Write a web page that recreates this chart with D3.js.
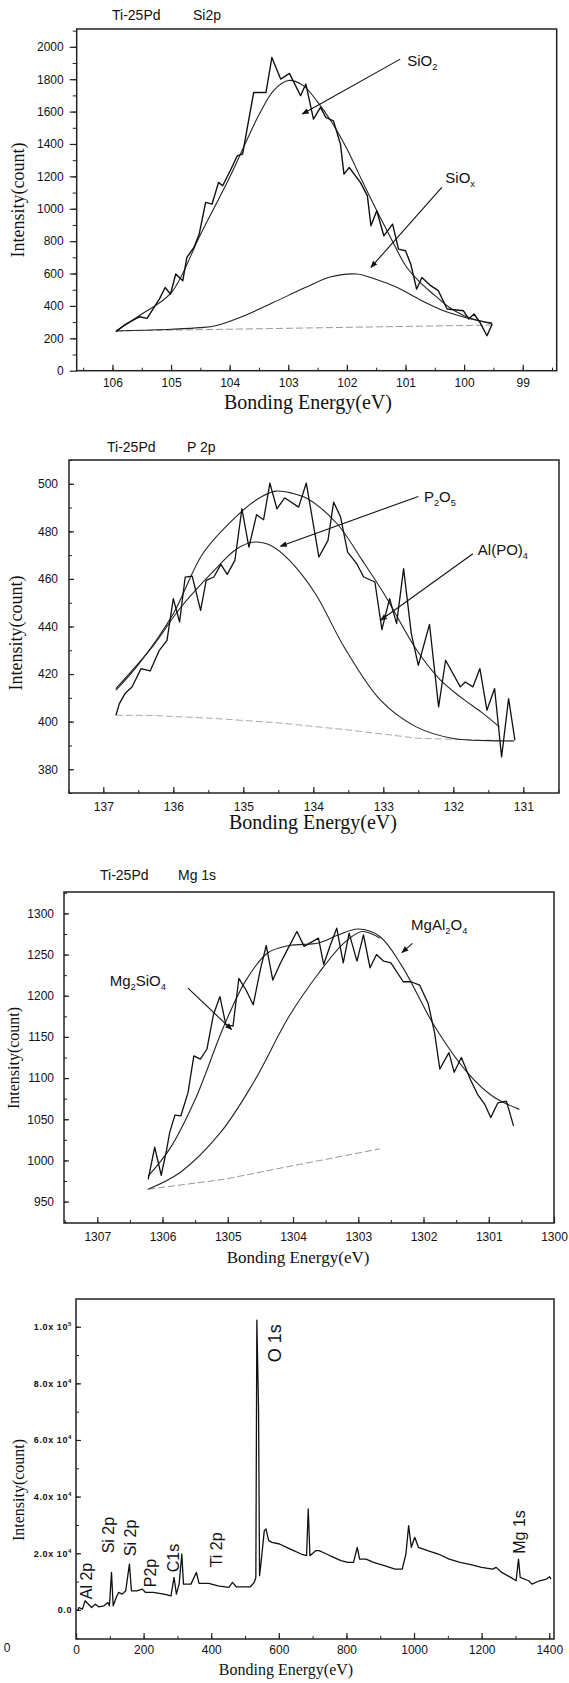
<!DOCTYPE html>
<html><head><meta charset="utf-8">
<script src="https://cdn.jsdelivr.net/npm/d3@7/dist/d3.min.js"></script>
<style>
body{margin:0;background:#fff;}
svg{display:block;}
</style></head><body>
<svg id="c" width="569" height="1683"></svg>
<script>
// ---------- Panel 1 : Si2p ----------
const siRawE = [105.94,105.81,105.72,105.54,105.41,105.2,105.1,105.01,104.92,104.8,104.73,104.61,104.52,104.41,104.3,104.19,104.12,103.99,103.87,103.78,103.59,103.38,103.28,103.13,102.98,102.79,102.7,102.57,102.45,102.36,102.23,102.11,102.05,101.96,101.77,101.65,101.59,101.49,101.37,101.22,101.12,101.0,100.91,100.81,100.72,100.57,100.44,100.29,100.01,99.92,99.83,99.73,99.61,99.52];
const siRawI = [241,278,298,333,323,442,514,473,597,556,700,761,844,1039,1029,1163,1142,1235,1327,1338,1718,1718,1934,1801,1836,1698,1770,1554,1626,1564,1543,1399,1214,1255,1163,1080,895,988,833,905,751,741,658,504,576,525,494,381,370,319,350,298,216,288];
const siFitE = [105.94,105.5,105,104.5,104,103.5,103.25,103,102.75,102.5,102.25,102,101.75,101.5,101.25,101,100.75,100.5,100.25,100,99.75,99.52];
const siFitI = [245,350,480,840,1195,1580,1730,1792,1762,1660,1530,1370,1180,995,820,650,545,465,390,340,310,295];
const siOxE = [105.94,105.5,105,104.5,104.24,103.75,103.25,102.7,102.27,101.83,101.52,101.15,100.72,100.35,99.98,99.52];
const siOxI = [245,250,256,266,278,340,422,515,580,597,566,515,432,370,329,288];
const siBgE = [105.94,99.52];
const siBgI = [245,282];
const siXTicks = [106,105,104,103,102,101,100,99];
const siYTicks = [0,200,400,600,800,1000,1200,1400,1600,1800,2000];

// ---------- Panel 2 : P 2p ----------
const pRawE = [136.82,136.77,136.69,136.59,136.46,136.33,136.2,136.09,136.0,135.91,135.83,135.73,135.61,135.53,135.42,135.32,135.23,135.12,135.02,134.92,134.81,134.71,134.62,134.52,134.41,134.21,134.1,133.92,133.79,133.71,133.61,133.51,133.38,133.28,133.12,133.02,132.91,132.81,132.71,132.6,132.5,132.34,132.21,132.11,131.9,131.83,131.72,131.62,131.52,131.41,131.31,131.21,131.12];
const pRawI = [402.7,407.6,411.8,414.6,422.3,421.3,430,434.2,451.7,441.9,460.8,461.2,446.8,459.4,460.8,466.1,461.9,467.8,489.5,473.4,487,484.9,500.3,489.5,494.1,490.2,500.3,469.2,476.2,492.3,486,471.3,466.4,460.8,458.7,438.7,451.7,441.2,464.3,437,423.7,440.9,406.2,425.8,414.6,416.7,414.6,422.3,404.8,413.9,385.2,409.7,392.2];
const pFitE = [136.82,136.5,136.0,135.58,135.11,134.8,134.54,134.3,134.08,133.66,133.3,132.99,132.52,132.2,131.9,131.6,131.34];
const pFitI = [413.2,424,445.4,470.6,486,493.5,496.9,496,493.7,483.2,467.8,453.8,430,418,410.4,404,397.8];
const p2o5E = [136.82,136.3,135.89,135.37,135.1,134.85,134.6,134.34,133.97,133.56,133.04,132.53,132.0,131.5,131.13];
const p2o5I = [413.9,431.4,448.2,465,472.5,475.5,474,467.8,453.8,431.4,409,397.8,392.9,392,391.9];
const pBgE = [136.82,136.3,135.5,134.5,133.5,132.5,131.13];
const pBgI = [402.7,402.6,401.5,399.5,396.5,393,391.9];
const pXTicks = [137,136,135,134,133,132,131];
const pYTicks = [380,400,420,440,460,480,500];

// ---------- Panel 3 : Mg 1s ----------
const mgRawE = [1306.22,1306.12,1306.02,1305.94,1305.89,1305.81,1305.72,1305.61,1305.52,1305.42,1305.32,1305.22,1305.12,1305.03,1304.92,1304.83,1304.72,1304.61,1304.5,1304.41,1304.31,1304.19,1304.06,1303.94,1303.83,1303.61,1303.53,1303.43,1303.33,1303.23,1303.14,1303.02,1302.92,1302.82,1302.72,1302.61,1302.5,1302.31,1302.19,1302.06,1301.93,1301.83,1301.75,1301.61,1301.53,1301.42,1301.28,1301.17,1301.06,1300.97,1300.86,1300.73,1300.62];
const mgRawI = [977,1016,982,1012,1034,1055,1054,1082,1127,1123,1135,1177,1199,1165,1163,1221,1207,1189,1232,1261,1219,1240,1260,1278,1260,1270,1238,1261,1282,1240,1276,1242,1274,1234,1250,1242,1240,1217,1217,1213,1191,1155,1111,1131,1107,1125,1098,1080,1068,1052,1070,1072,1042];
const mgFitE = [1306.22,1305.89,1305.5,1305.06,1304.72,1304.39,1304.06,1303.61,1303.3,1303.0,1302.67,1302.33,1301.83,1301.33,1300.94,1300.53];
const mgFitI = [981,1014,1074,1163,1219,1252,1261,1264,1274,1281,1272,1236,1163,1107,1078,1062];
const mgAlE = [1306.22,1305.72,1305.11,1304.61,1304.06,1303.61,1303.22,1302.94,1302.67];
const mgAlI = [965,986,1034,1094,1175,1227,1264,1278,1270];
const mgBgE = [1306.22,1305.06,1304.17,1302.67];
const mgBgI = [965,977,991,1014];
const mgXTicks = [1307,1306,1305,1304,1303,1302,1301,1300];
const mgYTicks = [950,1000,1050,1100,1150,1200,1250,1300];

// ---------- Panel 4 : survey ----------
const svE = [5,8.5,19,27,35,46,57,67,83,94,99,105,110,119,126,137,147,158,164,180,196,206,228,260,281,290,297,305,313,318,340,356,364,393,420,452,463,474,516,527,532,535,540,543,548,557,562,570,580,602,623,644,666,682,687,692,709,719,741,762,784,805,821,832,839,858,880,912,944,965,976,984,992,1002,1013,1040,1072,1104,1136,1168,1200,1232,1243,1259,1286,1302,1309,1314,1339,1349,1371,1392,1401,1405];
const svI = [-354,826,236,3188,2243,826,2007,1062,1417,2597,1417,13223,1417,4368,6139,5549,6729,16174,6729,6729,7320,6139,6139,5549,4958,11452,5549,9091,19716,9091,9091,13223,9327,9327,8500,7910,9681,8146,8146,9681,11452,102358,70480,12042,17355,27980,28570,24438,23848,23257,22077,20897,19716,19126,35654,19126,20897,20897,19716,18535,17355,16764,16764,22077,17945,17945,16764,15584,14403,14403,19716,29751,22077,25619,22077,20897,19716,17945,16764,15938,14993,14403,14993,13223,11452,10271,17945,11452,10271,9091,10271,10862,11688,10862];
const svXTicks = [0,200,400,600,800,1000,1200,1400];
const svYTicks = [0,20000,40000,60000,80000,100000];
const svPeakNames = ["Al 2p","Si 2p","Si 2p","P2p","C1s","Ti 2p","O1s","Mg 1s"];
const svPeakE = [32,97,160,219,287,417,588,1312];
const svPeakI = [10200,26400,25400,13000,18300,21200,94200,27500];

const SANS = '"Liberation Sans", Arial, sans-serif';
const SERIF = '"Liberation Serif", "Times New Roman", serif';
const svg = d3.select("#c");
const defs = svg.append("defs");
defs.append("marker").attr("id","ah").attr("viewBox","0 0 10 10").attr("refX",9).attr("refY",5)
  .attr("markerWidth",9).attr("markerHeight",7).attr("markerUnits","userSpaceOnUse").attr("orient","auto")
  .append("path").attr("d","M0,1 L10,5 L0,9 Z").attr("fill","#111");

function zip(a,b){return a.map((v,i)=>[v,b[i]]);}

function panel(c){
  const g = svg.append("g");
  const x = d3.scaleLinear().domain(c.xd).range(c.xr);
  const y = d3.scaleLinear().domain(c.yd).range(c.yr);
  // minor ticks
  const xMinor = d3.axisBottom(x).tickValues(c.xMinor).tickFormat("").tickSizeInner(-3).tickSizeOuter(0);
  g.append("g").attr("transform",`translate(0,${c.yr[0]})`).call(xMinor).call(s=>s.select(".domain").remove())
    .selectAll("line").attr("stroke","#222");
  const yMinor = d3.axisLeft(y).tickValues(c.yMinor).tickFormat("").tickSizeInner(c.yOut?4:-3).tickSizeOuter(0);
  g.append("g").attr("transform",`translate(${c.xr[0]},0)`).call(yMinor).call(s=>s.select(".domain").remove())
    .selectAll("line").attr("stroke","#222");
  // major
  const xa = d3.axisBottom(x).tickValues(c.xt).tickFormat(d3.format("d")).tickSizeInner(-6).tickSizeOuter(0).tickPadding(c.xpad);
  const gx = g.append("g").attr("transform",`translate(0,${c.yr[0]})`).call(xa);
  gx.select(".domain").remove();
  gx.selectAll("line").attr("stroke","#222").attr("stroke-width",1.2);
  gx.selectAll("text").attr("font-family",SANS).attr("font-size",c.tfs).attr("fill","#111");
  const ya = d3.axisLeft(y).tickValues(c.yt).tickFormat(c.yf||d3.format("d")).tickSizeInner(c.yOut?7:-5).tickSizeOuter(0).tickPadding(c.ypad);
  const gy = g.append("g").attr("transform",`translate(${c.xr[0]},0)`).call(ya);
  gy.select(".domain").remove();
  gy.selectAll("line").attr("stroke","#222").attr("stroke-width",1.2);
  gy.selectAll("text").attr("font-family",SANS).attr("font-size",c.tfs).attr("fill","#111");
  if(c.yPost) c.yPost(gy);
  // frame
  g.append("rect").attr("x",c.xr[0]).attr("y",c.yr[1]).attr("width",c.xr[1]-c.xr[0]).attr("height",c.yr[0]-c.yr[1])
    .attr("fill","none").attr("stroke","#222").attr("stroke-width",1.5);
  // lines
  c.lines.forEach(L=>{
    const gen = d3.line().x(d=>x(d[0])).y(d=>y(d[1])).curve(L.smooth?d3.curveCatmullRom.alpha(0.5):d3.curveLinear);
    g.append("path").attr("d",gen(zip(L.e,L.i))).attr("fill","none").attr("stroke",L.color||"#111")
      .attr("stroke-width",L.w||1).attr("stroke-dasharray",L.dash||null).attr("stroke-linejoin","round");
  });
  // annotations
  (c.notes||[]).forEach(n=>{
    const t = g.append("text").attr("x",x(n.te)).attr("y",y(n.ti)).attr("font-family",SANS).attr("font-size",n.fs||15).attr("fill","#111");
    n.parts.forEach(p=>{
      if(p[1]) t.append("tspan").attr("font-size",(n.fs||15)*0.62).attr("dy",4).text(p[0]);
      else t.append("tspan").attr("dy",p[2]?-4:0).text(p[0]);
    });
    if(n.a) g.append("line").attr("x1",x(n.a[0])).attr("y1",y(n.a[1])).attr("x2",x(n.a[2])).attr("y2",y(n.a[3]))
      .attr("stroke","#111").attr("stroke-width",1.1).attr("marker-end","url(#ah)");
  });
  // labels
  if(c.title[2]){
    g.append("text").attr("x",c.title[0]).attr("y",c.title[1]).attr("font-family",SANS).attr("font-size",14).attr("fill","#111").text(c.title[2]);
    g.append("text").attr("x",c.title[3]).attr("y",c.title[1]).attr("font-family",SANS).attr("font-size",14).attr("fill","#111").text(c.title[4]);
  }
  g.append("text").attr("x",c.xl[0]).attr("y",c.xl[1]).attr("text-anchor","middle").attr("font-family",SERIF)
    .attr("font-size",c.xl[2]).attr("fill","#111").text("Bonding Energy(eV)");
  g.append("text").attr("transform",`translate(${c.yl[0]},${c.yl[1]}) rotate(-90)`).attr("text-anchor","middle")
    .attr("dominant-baseline","central").attr("font-family",SERIF).attr("font-size",c.yl[2]).attr("fill","#111").text("Intensity(count)");
  return {g,x,y};
}

function halfSteps(a,b,s){const r=[];for(let v=a;v<=b+1e-9;v+=s)r.push(+v.toFixed(3));return r;}

panel({
  xd:[106.61,98.42], xr:[76.7,556.7], yd:[0,2110], yr:[370.7,29],
  xt:siXTicks, yt:siYTicks, xMinor:halfSteps(98.5,106.5,0.5), yMinor:halfSteps(100,2100,100),
  yOut:true, xpad:8, ypad:6, tfs:12,
  lines:[
    {e:siBgE,i:siBgI,color:"#999",dash:"7 3",w:1},
    {e:siOxE,i:siOxI,smooth:true,w:1.1,color:"#222"},
    {e:siFitE,i:siFitI,smooth:true,w:1.1,color:"#222"},
    {e:siRawE,i:siRawI,w:1.4}
  ],
  notes:[
    {te:100.97,ti:1880,parts:[["SiO"],["2",true]],a:[101.09,1924,102.76,1585]},
    {te:100.32,ti:1160,parts:[["SiO"],["x",true]],a:[100.38,1132,101.59,638]}
  ],
  title:[112,20,"Ti-25Pd",193,"Si2p"],
  xl:[308,409,20], yl:[18,200,18]
});

panel({
  xd:[137.49,130.49], xr:[69,559], yd:[370,510], yr:[793,460],
  xt:pXTicks, yt:pYTicks, xMinor:halfSteps(130.5,137.5,0.5), yMinor:halfSteps(370,510,10),
  yOut:false, xpad:9, ypad:11, tfs:12,
  lines:[
    {e:pBgE,i:pBgI,color:"#aaa",dash:"7 3",w:1},
    {e:p2o5E,i:p2o5I,smooth:true,w:1.1,color:"#222"},
    {e:pFitE,i:pFitI,smooth:true,w:1.1,color:"#222"},
    {e:pRawE,i:pRawI,w:1.3}
  ],
  notes:[
    {te:132.42,ti:492.3,parts:[["P"],["2",true],["O",false,true],["5",true]],a:[132.5,494.7,134.47,473.7]},
    {te:131.65,ti:469.9,parts:[["Al(PO)"],["4",true]],a:[131.72,470.6,133.04,442.6]}
  ],
  title:[107,452,"Ti-25Pd",187,"P 2p"],
  xl:[313,829,20], yl:[16,633,18]
});

panel({
  xd:[1307.51,1300], xr:[64,554], yd:[924,1326], yr:[1223,892],
  xt:mgXTicks, yt:mgYTicks, xMinor:halfSteps(1300,1307.5,0.5), yMinor:halfSteps(925,1325,25),
  yOut:false, xpad:9, ypad:10, tfs:12,
  lines:[
    {e:mgBgE,i:mgBgI,color:"#999",dash:"7 3",w:1},
    {e:mgAlE,i:mgAlI,smooth:true,w:1.1,color:"#222"},
    {e:mgFitE,i:mgFitI,smooth:true,w:1.1,color:"#222"},
    {e:mgRawE,i:mgRawI,w:1.3}
  ],
  notes:[
    {te:1306.81,ti:1212,parts:[["Mg"],["2",true],["SiO",false,true],["4",true]],a:[1305.61,1209.3,1304.94,1158.9]},
    {te:1302.19,ti:1280,parts:[["MgAl"],["2",true],["O",false,true],["4",true]],a:[1302.17,1263.7,1302.33,1252.4]}
  ],
  title:[100,880,"Ti-25Pd",178,"Mg 1s"],
  xl:[298,1263,17], yl:[13,1058,16]
});

const p4 = panel({
  xd:[0,1414], xr:[76,554], yd:[-10300,109800], yr:[1639,1299],
  xt:svXTicks, yt:svYTicks, xMinor:halfSteps(100,1400,100), yMinor:halfSteps(-10000,100000,10000),
  yOut:false, xpad:6, ypad:4, tfs:12,
  yf:d3.format("d"),
  yPost:(gy)=>{
    gy.selectAll("text").each(function(d){
      const t=d3.select(this); t.text(null).attr("font-size",9).attr("letter-spacing",0.6).attr("font-weight","bold");
      if(d===0){t.text("0.0");return;}
      const e=Math.floor(Math.log10(d)); const m=d/Math.pow(10,e);
      t.append("tspan").text(m.toFixed(1)+"x 10");
      t.append("tspan").attr("dy",-4).attr("font-size",6).text(e);
    });
  },
  lines:[{e:svE,i:svI,w:1.3}],
  notes:[],
  title:[0,0,"",0,""],
  xl:[286,1675,16], yl:[18,1490,16]
});
// survey peak labels
svPeakNames.forEach((n,i)=>{
  p4.g.append("text").attr("transform",`translate(${p4.x(svPeakE[i])},${p4.y(svPeakI[i])}) rotate(-90)`)
    .attr("text-anchor","middle").attr("dominant-baseline","central").attr("font-family",SANS)
    .attr("font-size",n==="O1s"?18:16).attr("fill","#111").text(n==="O1s"?"O 1s":n);
});
p4.g.append("text").attr("x",7).attr("y",1652).attr("text-anchor","middle").attr("font-family",SANS).attr("font-size",12).attr("fill","#111").text("0");
</script>
</body></html>
